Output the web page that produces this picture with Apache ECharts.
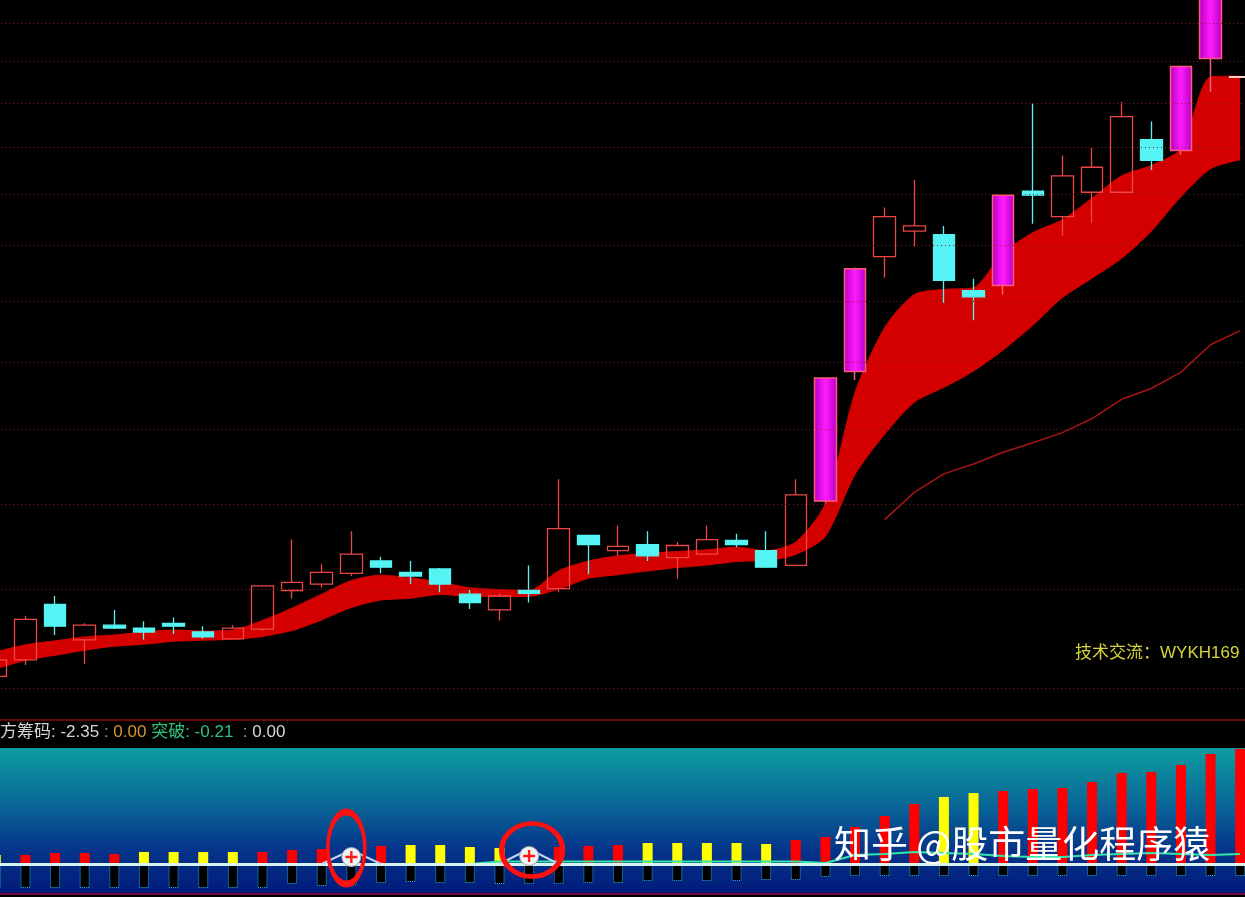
<!DOCTYPE html>
<html>
<head>
<meta charset="utf-8">
<title>K线 + 筹码</title>
<script src="https://cdn.jsdelivr.net/npm/echarts@6.0.0/dist/echarts.min.js"></script>
<style>
  html, body { margin: 0; padding: 0; background: #000; }
  #chart { width: 1245px; height: 897px; }
</style>
</head>
<body>
<div id="chart"></div>
<script>
// 43 trading days, no date labels visible in the picture
const days = [1, 2, 3, 4, 5, 6, 7, 8, 9, 10, 11, 12, 13, 14, 15, 16, 17, 18, 19, 20, 21, 22,
  23, 24, 25, 26, 27, 28, 29, 30, 31, 32, 33, 34, 35, 36, 37, 38, 39, 40, 41, 42, 43];

// [open, close, low, high]
const candles = [
  [6.11, 6.27, 6.08, 6.29], [6.27, 6.68, 6.22, 6.72], [6.84, 6.61, 6.52, 6.93], [6.47, 6.62, 6.23, 6.64],
  [6.62, 6.59, 6.58, 6.78], [6.59, 6.55, 6.47, 6.66], [6.64, 6.61, 6.53, 6.70], [6.55, 6.50, 6.48, 6.61],
  [6.48, 6.59, 6.48, 6.62], [6.58, 7.04, 6.56, 7.04], [6.99, 7.08, 6.90, 7.57], [7.06, 7.19, 7.02, 7.29],
  [7.18, 7.40, 7.15, 7.67], [7.32, 7.25, 7.18, 7.37], [7.19, 7.15, 7.06, 7.32], [7.23, 7.06, 6.97, 7.24],
  [6.95, 6.86, 6.79, 7.00], [6.78, 6.93, 6.67, 6.96], [6.99, 6.96, 6.86, 7.27], [7.01, 7.70, 6.97, 8.32],
  [7.62, 7.51, 7.17, 7.62], [7.44, 7.49, 7.38, 7.74], [7.51, 7.38, 7.32, 7.67], [7.36, 7.50, 7.12, 7.54],
  [7.40, 7.57, 7.39, 7.74], [7.56, 7.51, 7.48, 7.64], [7.44, 7.25, 7.24, 7.67], [7.27, 8.12, 7.26, 8.32],
  [8.04, 9.75, 8.01, 9.75], [9.85, 11.57, 9.72, 11.59], [11.79, 12.55, 11.41, 12.73], [12.27, 12.37, 11.98, 13.29],
  [12.20, 11.36, 10.97, 12.37], [11.18, 11.07, 10.67, 11.39], [11.27, 12.98, 11.11, 12.98], [13.06, 12.98, 12.41, 14.98],
  [12.55, 13.38, 12.18, 13.81], [13.04, 13.56, 12.43, 13.98], [13.04, 14.68, 13.02, 15.02], [14.16, 13.71, 13.50, 14.57],
  [13.92, 15.88, 13.83, 15.88], [16.08, 18.06, 15.26, 18.06], [15.61, 15.63, 15.60, 15.64]
];
const limitUp = [28, 29, 34, 40, 41];   // magenta candles
const lastDoji = 42;

// red ribbon: upper / lower edge
const ribbonTop = [6.35, 6.42, 6.46, 6.50, 6.52, 6.55, 6.57, 6.56, 6.57, 6.67, 6.80, 6.95, 7.10, 7.16, 7.13,
  7.08, 7.02, 7.00, 6.99, 7.21, 7.32, 7.38, 7.41, 7.43, 7.45, 7.48, 7.44, 7.54, 8.01, 9.53, 10.55, 11.11,
  11.20, 11.23, 11.86, 12.24, 12.49, 12.92, 13.38, 13.60, 13.96, 15.62, 15.64];
const ribbonBottom = [6.18, 6.26, 6.31, 6.36, 6.40, 6.42, 6.45, 6.46, 6.47, 6.50, 6.56, 6.67, 6.80, 6.88, 6.90,
  6.94, 6.92, 6.92, 6.92, 7.00, 7.12, 7.16, 7.20, 7.24, 7.27, 7.31, 7.32, 7.39, 7.60, 8.37, 8.92, 9.38,
  9.60, 9.85, 10.18, 10.58, 11.05, 11.39, 11.75, 12.26, 12.94, 13.52, 13.71];

// thin dark red average line
const maLine = [null, null, null, null, null, null, null, null, null, null, null, null, null, null, null,
  null, null, null, null, null, null, null, null, null, null, null, null, null, null, null,
  7.81, 8.15, 8.39, 8.52, 8.68, 8.81, 8.95, 9.15, 9.43, 9.59, 9.84, 10.27, 10.50];

// price grid lines (dotted)
const gridPrices = [6, 7, 8, 9, 10, 11, 12, 13, 14, 15, 16, 17];

// lower panel
const chipBars = [9, 9, 11, 11, 10, 12, 12, 12, 12, 12, 14, 15, 13, 18, 19, 19, 17, 16, 14, 17, 18, 19,
  21, 21, 21, 21, 20, 24, 27, 37, 48, 60, 67, 71, 73, 75, 76, 82, 91, 92, 99, 110, 115];
const chipKind = ['y', 'r', 'r', 'r', 'r', 'y', 'y', 'y', 'y', 'r', 'r', 'r', 'r', 'r', 'y', 'y', 'y', 'y',
  'r', 'r', 'r', 'r', 'y', 'y', 'y', 'y', 'y', 'r', 'r', 'r', 'r', 'r', 'y', 'y', 'r', 'r', 'r', 'r', 'r',
  'r', 'r', 'r', 'r'];
const downBoxes = [-24, -24, -24, -24, -24, -24, -24, -24, -24, -24, -20, -22, -22, -19, -18, -19, -19, -20,
  -20, -20, -19, -19, -17, -17, -17, -17, -16, -16, -13, -12, -12, -12, -12, -12, -12, -12, -12, -12, -12,
  -12, -12, -12, -12];
const greenLine = [0, 0, 0, 0, 0, 0, 0, 0, 0, 0, 0, 0, 0, 0, 0, 0, 0, 2.5, 2.5, 2.5, 2.5, 2.5, 2.5, 2.5,
  2.5, 2.5, 2.5, 2.5, 1, 9, 10, 12, 11, 10, 8, 7, 7, 9, 10, 11, 10, 9, 10];
const peakLine = [null, null, null, null, null, null, null, null, null, null, null, 0, 14, 0, null, null,
  null, 0, 15, 0, null, null, null, null, null, null, null, null, null, null, null, null, null, null, null,
  null, null, null, null, null, null, null, null];
const plusMarks = [[12, 7], [18, 8]];
const rings = [[12, 16], [18, 14]];

var chart = echarts.init(document.getElementById('chart'));

var magenta = new echarts.graphic.LinearGradient(0, 0, 1, 0, [
  { offset: 0, color: '#b400c0' },
  { offset: 0.5, color: '#ff1cff' },
  { offset: 1, color: '#b400c0' }
]);

var candleData = candles.map(function (c, i) {
  if (limitUp.indexOf(i) >= 0) {
    return { value: c, itemStyle: { color: magenta, borderColor: '#ff5a78', borderWidth: 1.5 } };
  }
  if (i === lastDoji) {
    return { value: c, itemStyle: { color: '#ffd0d0', borderColor: '#ffd0d0' } };
  }
  return c;
});

var ribbonBand = ribbonTop.map(function (v, i) {
  return +(v - ribbonBottom[i]).toFixed(3);
});

var chipData = chipBars.map(function (v, i) {
  return { value: v, itemStyle: { color: chipKind[i] === 'y' ? '#ffff00' : '#ff0000' } };
});

var hidden = { show: false };

var option = {
  backgroundColor: '#000',
  animation: false,
  title: [
    {
      left: 0, top: 724, padding: 0,
      text: '{w|方筹码: -2.35}{d| : }{o|0.00}{g| 突破: -0.21}{d|  : }{w|0.00}',
      textStyle: {
        fontSize: 17, fontWeight: 'normal',
        fontFamily: 'Liberation Sans, Noto Sans CJK SC, sans-serif',
        rich: {
          w: { color: '#d6d6d6', fontSize: 17, fontFamily: 'Liberation Sans, Noto Sans CJK SC' },
          d: { color: '#9a9a9a', fontSize: 17, fontFamily: 'Liberation Sans' },
          o: { color: '#d4962a', fontSize: 17, fontFamily: 'Liberation Sans' },
          g: { color: '#2fc27c', fontSize: 17, fontFamily: 'Liberation Sans, Noto Sans CJK SC' }
        }
      }
    },
    {
      left: 1075, top: 645, padding: 0,
      text: '技术交流：WYKH169',
      textStyle: { color: '#d4d43c', fontSize: 17, fontWeight: 'normal', fontFamily: 'Liberation Sans, Noto Sans CJK SC' }
    },
    {
      left: 834, top: 825, padding: 0,
      text: '知乎 @股市量化程序猿',
      textStyle: { color: '#ffffff', fontSize: 37, fontWeight: 'normal', fontFamily: 'Noto Sans CJK SC' }
    }
  ],
  grid: [
    { left: -19, right: -10, top: 0, height: 720, outerBoundsMode: 'none' },
    {
      left: -19, right: -10, top: 748, height: 146, outerBoundsMode: 'none', show: true, borderWidth: 0,
      backgroundColor: new echarts.graphic.LinearGradient(0, 0, 0, 1, [
        { offset: 0, color: '#0c9ca0' },
        { offset: 0.35, color: '#0a6c98' },
        { offset: 0.7, color: '#05348a' },
        { offset: 1, color: '#011a7a' }
      ])
    }
  ],
  xAxis: [
    {
      type: 'category', gridIndex: 0, data: days, boundaryGap: true,
      axisLine: { show: true, lineStyle: { color: '#8c0a0a', width: 1.5 } },
      axisTick: hidden, axisLabel: hidden, splitLine: hidden
    },
    {
      type: 'category', gridIndex: 1, data: days, boundaryGap: true,
      axisLine: { show: true, onZero: false, lineStyle: { color: '#6e0c3c', width: 2 } },
      axisTick: hidden, axisLabel: hidden, splitLine: hidden
    }
  ],
  yAxis: [
    {
      type: 'log', gridIndex: 0, min: 5.707, max: 17.62,
      axisLine: hidden, axisTick: hidden, axisLabel: hidden, splitLine: hidden
    },
    {
      type: 'value', gridIndex: 1, min: -30, max: 116,
      axisLine: hidden, axisTick: hidden, axisLabel: hidden, splitLine: hidden
    }
  ],
  series: [
    {
      name: 'ribbonBase', type: 'line', stack: 'rib', data: ribbonBottom,
      symbol: 'none', lineStyle: { opacity: 0 }, smooth: 0.25, z: 1,
      markLine: {
        silent: true, symbol: ['none', 'none'], label: hidden,
        lineStyle: { color: '#8a2020', type: [1, 3], width: 1 },
        data: gridPrices.map(function (p) { return { yAxis: p }; })
      }
    },
    {
      name: 'ribbon', type: 'line', stack: 'rib', data: ribbonBand,
      symbol: 'none', smooth: 0.25, z: 2,
      lineStyle: { color: '#d40000', width: 1 },
      areaStyle: { color: '#d40000', opacity: 1 }
    },
    {
      name: 'MA', type: 'line', data: maLine, symbol: 'none', z: 3,
      lineStyle: { color: '#a81414', width: 1.5 }
    },
    {
      name: 'K', type: 'candlestick', data: candleData, barWidth: 22, z: 4,
      itemStyle: {
        color: 'rgba(0,0,0,0)', color0: '#55f4f4',
        borderColor: '#ee4646', borderColor0: '#55f4f4', borderWidth: 1.3
      }
    },
    {
      name: 'chip', type: 'bar', xAxisIndex: 1, yAxisIndex: 1, stack: 'v',
      barWidth: 10, data: chipData, z: 2
    },
    {
      name: 'box', type: 'bar', xAxisIndex: 1, yAxisIndex: 1, stack: 'v',
      barWidth: 10, data: downBoxes, z: 2,
      itemStyle: { color: '#000', borderColor: '#28b4d4', borderWidth: 1, borderType: 'dotted' },
      markLine: {
        silent: true, symbol: ['none', 'none'], label: hidden, z: 5,
        lineStyle: { color: '#d6f2f6', type: 'solid', width: 3 },
        data: [{ yAxis: 0 }]
      }
    },
    {
      name: 'green', type: 'line', xAxisIndex: 1, yAxisIndex: 1, data: greenLine,
      symbol: 'none', z: 3, lineStyle: { color: '#33e6a8', width: 2 }
    },
    {
      name: 'peak', type: 'line', xAxisIndex: 1, yAxisIndex: 1, data: peakLine,
      symbol: 'none', z: 6, lineStyle: { color: '#b8d4f0', width: 2 }
    },
    {
      name: 'dot', type: 'scatter', xAxisIndex: 1, yAxisIndex: 1, data: plusMarks,
      symbol: 'circle', symbolSize: 19, z: 7,
      itemStyle: { color: '#f2f2f2', borderColor: '#9aaab0', borderWidth: 1, opacity: 1 }
    },
    {
      name: 'plus', type: 'scatter', xAxisIndex: 1, yAxisIndex: 1, data: plusMarks,
      symbol: 'path://M4,0H6V4H10V6H6V10H4V6H0V4H4Z', symbolSize: 12, z: 8,
      itemStyle: { color: '#ff1a1a', opacity: 1 }
    },
    {
      name: 'ring', type: 'scatter', xAxisIndex: 1, yAxisIndex: 1, z: 9,
      symbol: 'circle',
      itemStyle: { color: 'rgba(0,0,0,0)', borderColor: '#ff1010', borderWidth: 5, opacity: 1 },
      data: [
        { value: rings[0], symbolSize: [37, 72], symbolOffset: [-5, 0] },
        { value: rings[1], symbolSize: [61, 53], symbolOffset: [3, 0] }
      ]
    }
  ]
};

chart.setOption(option);
</script>
</body>
</html>
